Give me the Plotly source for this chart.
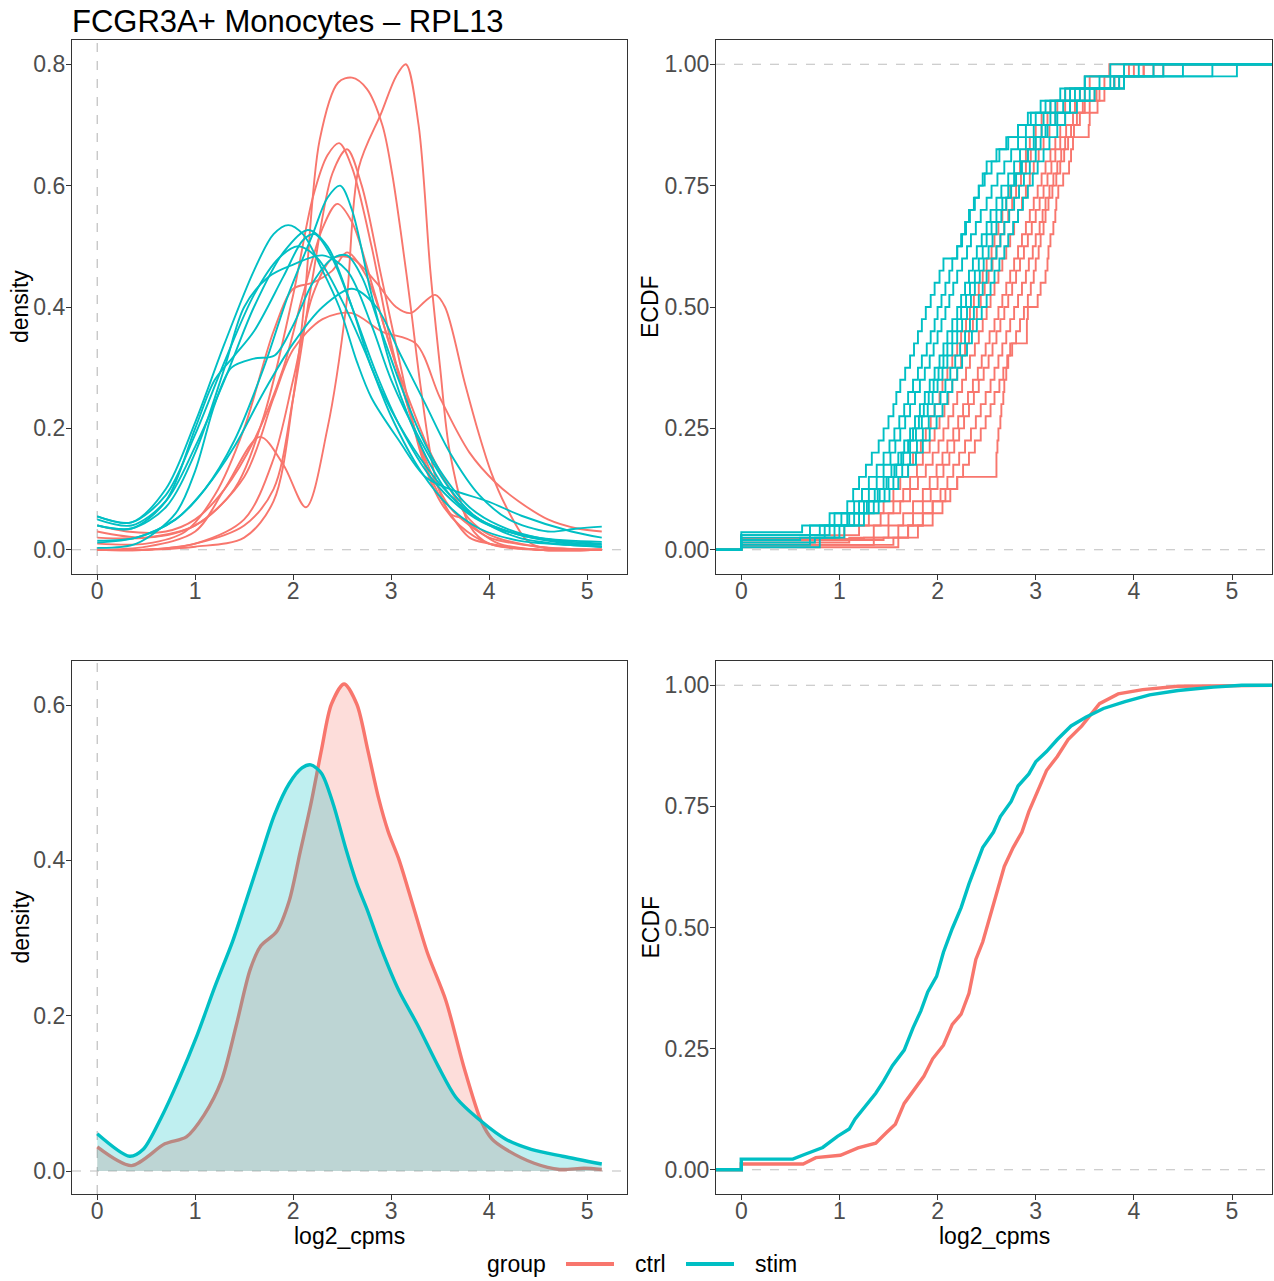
import plotly.graph_objects as go

RED = "#F8766D"
CYAN = "#00BFC4"
RED_FILL = "rgba(248,118,109,0.25)"
CYAN_FILL = "rgba(0,191,196,0.25)"

TITLE = "FCGR3A+ Monocytes – RPL13"
GROUPS = ["ctrl", "stim"]

# ---------------- per-sample densities (top-left) ----------------
ctrl1_x = [0, 0.5, 1.0, 1.3, 1.66, 1.9, 2.13, 2.35, 2.54, 2.67, 2.9, 3.05, 3.15, 3.28, 3.4, 3.5, 3.6, 3.8, 4.0, 4.5, 5.15]
ctrl1_y = [0.0, 0.005, 0.03, 0.10, 0.186, 0.14, 0.07, 0.20, 0.40, 0.63, 0.72, 0.78, 0.80, 0.70, 0.46, 0.30, 0.16, 0.04, 0.01, 0.0, 0.0]
ctrl2_x = [0, 0.5, 1.0, 1.4, 1.7, 2.0, 2.2, 2.35, 2.47, 2.6, 2.8, 3.0, 3.2, 3.4, 3.6, 3.8, 4.0, 4.5, 5.15]
ctrl2_y = [0.02, 0.02, 0.04, 0.10, 0.22, 0.42, 0.58, 0.65, 0.67, 0.63, 0.50, 0.34, 0.22, 0.13, 0.07, 0.04, 0.02, 0.005, 0.0]
ctrl3_x = [0, 0.5, 1.0, 1.5, 1.8, 2.0, 2.2, 2.4, 2.55, 2.7, 2.9, 3.1, 3.3, 3.5, 3.7, 4.0, 4.5, 5.15]
ctrl3_y = [0.0, 0.0, 0.01, 0.04, 0.10, 0.25, 0.45, 0.62, 0.66, 0.60, 0.45, 0.30, 0.16, 0.08, 0.04, 0.01, 0.0, 0.0]
ctrl4_x = [0, 0.3, 0.7, 1.0, 1.3, 1.6, 1.9, 2.1, 2.3, 2.45, 2.6, 2.8, 3.0, 3.2, 3.4, 3.6, 3.8, 4.0, 4.5, 5.15]
ctrl4_y = [0.04, 0.03, 0.03, 0.05, 0.10, 0.18, 0.30, 0.42, 0.53, 0.57, 0.54, 0.44, 0.33, 0.24, 0.16, 0.10, 0.05, 0.025, 0.005, 0.0]
ctrl5_x = [0, 0.5, 1.0, 1.5, 1.8, 2.0, 2.11, 2.27, 2.46, 2.6, 2.75, 2.91, 3.01, 3.11, 3.2, 3.3, 3.45, 3.6, 3.75, 3.9, 4.1, 4.5, 5.15]
ctrl5_y = [0.0, 0.0, 0.005, 0.02, 0.08, 0.25, 0.40, 0.675, 0.77, 0.778, 0.76, 0.70, 0.62, 0.51, 0.40, 0.27, 0.12, 0.06, 0.05, 0.03, 0.01, 0.0, 0.0]
ctrl6_x = [0, 0.5, 1.0, 1.5, 1.8, 2.0, 2.3, 2.6, 2.9, 3.25, 3.5, 3.8, 4.07, 4.3, 4.6, 4.9, 5.15]
ctrl6_y = [0.03, 0.02, 0.04, 0.12, 0.25, 0.33, 0.38, 0.39, 0.36, 0.34, 0.25, 0.16, 0.11, 0.08, 0.05, 0.035, 0.03]
ctrl7_x = [0, 0.5, 1.0, 1.5, 1.8, 2.0, 2.2, 2.4, 2.6, 2.85, 3.05, 3.2, 3.35, 3.45, 3.55, 3.75, 3.89, 4.02, 4.17, 4.37, 4.5, 5.15]
ctrl7_y = [0.0, 0.0, 0.01, 0.05, 0.15, 0.28, 0.42, 0.48, 0.48, 0.44, 0.40, 0.39, 0.41, 0.42, 0.40, 0.276, 0.194, 0.128, 0.072, 0.018, 0.005, 0.0]
ctrl8_x = [0, 0.5, 0.9, 1.2, 1.5, 1.8, 2.0, 2.2, 2.4, 2.55, 2.75, 3.0, 3.2, 3.4, 3.6, 3.8, 4.0, 4.5, 5.15]
ctrl8_y = [0.01, 0.01, 0.03, 0.09, 0.20, 0.36, 0.43, 0.44, 0.46, 0.49, 0.45, 0.33, 0.22, 0.12, 0.06, 0.02, 0.01, 0.0, 0.0]

stim1_x = [0, 0.35, 0.7, 1.0, 1.3, 1.6, 1.8, 1.95, 2.1, 2.3, 2.47, 2.65, 2.8, 3.08, 3.35, 3.6, 4.0, 4.33, 4.84, 5.15]
stim1_y = [0.055, 0.045, 0.10, 0.21, 0.34, 0.46, 0.52, 0.535, 0.52, 0.46, 0.40, 0.31, 0.25, 0.18, 0.12, 0.10, 0.079, 0.056, 0.03, 0.02]
stim2_x = [0, 0.35, 0.7, 1.0, 1.3, 1.6, 1.9, 2.15, 2.35, 2.6, 2.8, 3.0, 3.3, 3.6, 3.9, 4.3, 4.8, 5.15]
stim2_y = [0.05, 0.04, 0.08, 0.17, 0.28, 0.40, 0.49, 0.527, 0.50, 0.40, 0.30, 0.23, 0.15, 0.09, 0.05, 0.025, 0.01, 0.005]
stim3_x = [0, 0.35, 0.7, 1.0, 1.2, 1.4, 1.6, 1.9, 2.1, 2.22, 2.4, 2.6, 2.85, 3.1, 3.4, 3.7, 4.0, 4.5, 5.15]
stim3_y = [0.04, 0.035, 0.08, 0.20, 0.28, 0.32, 0.36, 0.45, 0.51, 0.52, 0.48, 0.40, 0.29, 0.20, 0.12, 0.07, 0.04, 0.02, 0.013]
stim4_x = [0, 0.4, 0.8, 1.1, 1.4, 1.7, 1.95, 2.2, 2.35, 2.48, 2.6, 2.8, 3.0, 3.2, 3.4, 3.6, 3.9, 4.3, 4.8, 5.15]
stim4_y = [0.015, 0.02, 0.05, 0.10, 0.18, 0.30, 0.42, 0.52, 0.58, 0.60, 0.56, 0.42, 0.30, 0.21, 0.14, 0.09, 0.05, 0.02, 0.008, 0.005]
stim5_x = [0, 0.4, 0.8, 1.0, 1.2, 1.37, 1.6, 1.81, 2.0, 2.2, 2.4, 2.55, 2.7, 2.9, 3.1, 3.3, 3.5, 3.8, 4.1, 4.5, 5.15]
stim5_y = [0.003, 0.01, 0.06, 0.13, 0.24, 0.30, 0.315, 0.32, 0.37, 0.44, 0.48, 0.485, 0.45, 0.36, 0.27, 0.19, 0.13, 0.07, 0.04, 0.02, 0.01]
stim6_x = [0, 0.4, 0.8, 1.1, 1.4, 1.7, 2.0, 2.3, 2.6, 2.85, 3.1, 3.35, 3.6, 3.9, 4.2, 4.6, 4.9, 5.15]
stim6_y = [0.012, 0.02, 0.05, 0.10, 0.17, 0.26, 0.34, 0.40, 0.43, 0.40, 0.32, 0.24, 0.16, 0.09, 0.05, 0.03, 0.035, 0.038]
stim7_x = [0, 0.35, 0.7, 1.0, 1.3, 1.6, 1.85, 2.05, 2.25, 2.5, 2.75, 3.0, 3.3, 3.6, 3.9, 4.3, 4.8, 5.15]
stim7_y = [0.055, 0.045, 0.09, 0.19, 0.31, 0.42, 0.48, 0.50, 0.48, 0.41, 0.32, 0.22, 0.13, 0.07, 0.035, 0.015, 0.008, 0.005]
stim8_x = [0, 0.35, 0.7, 1.0, 1.3, 1.5, 1.75, 2.0, 2.3, 2.55, 2.8, 3.0, 3.3, 3.6, 3.9, 4.3, 4.8, 5.15]
stim8_y = [0.04, 0.035, 0.07, 0.16, 0.30, 0.40, 0.45, 0.47, 0.485, 0.46, 0.37, 0.28, 0.18, 0.10, 0.05, 0.025, 0.012, 0.008]

# ---------------- per-sample ECDFs (top-right) ----------------
# x value at which each sample's ECDF first reaches each level (levels 0.025 .. 1.000)
ECDF_LEVELS = [0.025, 0.050, 0.075, 0.100, 0.125, 0.150, 0.175, 0.200, 0.225, 0.250,
               0.275, 0.300, 0.325, 0.350, 0.375, 0.400, 0.425, 0.450, 0.475, 0.500,
               0.525, 0.550, 0.575, 0.600, 0.625, 0.650, 0.675, 0.700, 0.725, 0.750,
               0.775, 0.800, 0.825, 0.850, 0.875, 0.900, 0.925, 0.950, 0.975, 1.000]
ctrl_zero_frac = [0.020, 0.030, 0.015, 0.022, 0.010, 0.020, 0.005, 0.010]
ctrl_ecdf1 = [0.85, 1.05, 1.30, 1.45, 1.55, 1.62, 1.70, 1.75, 1.83, 1.88, 1.93, 1.97, 2.02, 2.05, 2.10, 2.15, 2.20, 2.24, 2.29, 2.33,
              2.37, 2.42, 2.46, 2.50, 2.55, 2.58, 2.62, 2.66, 2.70, 2.74, 2.80, 2.84, 2.90, 2.94, 3.00, 3.06, 3.15, 3.30, 3.50, 3.75]
ctrl_ecdf2 = [0.95, 1.20, 1.42, 1.55, 1.65, 1.72, 1.79, 1.85, 1.92, 1.97, 2.02, 2.07, 2.11, 2.15, 2.20, 2.24, 2.28, 2.32, 2.36, 2.40,
              2.44, 2.48, 2.52, 2.56, 2.60, 2.64, 2.68, 2.72, 2.76, 2.80, 2.85, 2.90, 2.95, 3.00, 3.06, 3.12, 3.22, 3.35, 3.55, 3.90]
ctrl_ecdf3 = [1.10, 1.35, 1.50, 1.62, 1.72, 1.80, 1.88, 1.95, 2.01, 2.06, 2.11, 2.16, 2.20, 2.25, 2.29, 2.33, 2.38, 2.42, 2.46, 2.50,
              2.54, 2.58, 2.62, 2.66, 2.70, 2.74, 2.78, 2.82, 2.86, 2.90, 2.94, 2.98, 3.03, 3.08, 3.14, 3.20, 3.30, 3.45, 3.70, 4.00]
ctrl_ecdf4 = [1.25, 1.50, 1.65, 1.75, 1.85, 1.92, 1.99, 2.05, 2.10, 2.16, 2.21, 2.26, 2.31, 2.36, 2.41, 2.45, 2.49, 2.53, 2.58, 2.62,
              2.66, 2.70, 2.74, 2.78, 2.82, 2.86, 2.90, 2.94, 2.98, 3.02, 3.06, 3.10, 3.15, 3.20, 3.25, 3.30, 3.40, 3.50, 3.80, 4.20]
ctrl_ecdf5 = [1.35, 1.60, 1.75, 1.85, 1.93, 2.00, 2.06, 2.12, 2.17, 2.22, 2.27, 2.32, 2.37, 2.42, 2.47, 2.52, 2.56, 2.60, 2.64, 2.68,
              2.72, 2.76, 2.80, 2.84, 2.88, 2.92, 2.96, 3.00, 3.04, 3.08, 3.12, 3.16, 3.20, 3.25, 3.31, 3.38, 3.48, 3.60, 3.80, 4.10]
ctrl_ecdf6 = [1.45, 1.70, 1.85, 1.95, 2.03, 2.10, 2.16, 2.22, 2.28, 2.34, 2.39, 2.44, 2.49, 2.54, 2.58, 2.62, 2.66, 2.70, 2.74, 2.78,
              2.82, 2.86, 2.90, 2.93, 2.97, 3.00, 3.04, 3.07, 3.10, 3.14, 3.18, 3.22, 3.26, 3.30, 3.36, 3.42, 3.50, 3.62, 3.90, 4.30]
ctrl_ecdf7 = [1.60, 1.80, 1.95, 2.05, 2.13, 2.20, 2.26, 2.32, 2.38, 2.44, 2.49, 2.54, 2.58, 2.63, 2.67, 2.71, 2.76, 2.80, 2.84, 2.88,
              2.92, 2.95, 2.98, 3.00, 3.03, 3.05, 3.08, 3.10, 3.13, 3.17, 3.21, 3.25, 3.29, 3.33, 3.39, 3.45, 3.55, 3.65, 3.80, 3.95]
ctrl_ecdf8 = [1.55, 1.70, 1.85, 1.95, 2.08, 2.20, 2.60, 2.60, 2.61, 2.62, 2.64, 2.65, 2.67, 2.68, 2.70, 2.72, 2.74, 2.91, 2.91, 2.92,
              3.02, 3.05, 3.10, 3.12, 3.13, 3.15, 3.18, 3.20, 3.21, 3.23, 3.28, 3.34, 3.36, 3.38, 3.54, 3.55, 3.63, 3.70, 3.85, 4.10]

stim_zero_frac = [0.036, 0.025, 0.030, 0.020, 0.010, 0.015, 0.030, 0.005]
stim_ecdf1 = [0.00, 0.62, 0.90, 1.08, 1.14, 1.20, 1.27, 1.33, 1.40, 1.45, 1.50, 1.55, 1.58, 1.62, 1.67, 1.72, 1.76, 1.80, 1.84, 1.88,
              1.93, 1.97, 2.02, 2.06, 2.20, 2.25, 2.29, 2.33, 2.38, 2.42, 2.46, 2.50, 2.60, 2.70, 2.82, 2.95, 3.10, 3.30, 3.50, 3.76]
stim_ecdf2 = [0.00, 0.70, 0.95, 1.15, 1.23, 1.30, 1.38, 1.45, 1.51, 1.56, 1.61, 1.66, 1.70, 1.75, 1.80, 1.84, 1.89, 1.93, 1.97, 2.00,
              2.04, 2.08, 2.12, 2.15, 2.20, 2.24, 2.28, 2.32, 2.37, 2.42, 2.48, 2.55, 2.63, 2.72, 2.82, 2.92, 3.05, 3.25, 3.50, 3.90]
stim_ecdf3 = [0.00, 0.80, 1.02, 1.20, 1.30, 1.38, 1.45, 1.52, 1.57, 1.62, 1.67, 1.72, 1.77, 1.82, 1.87, 1.92, 1.96, 2.00, 2.04, 2.08,
              2.12, 2.16, 2.20, 2.25, 2.30, 2.34, 2.39, 2.44, 2.50, 2.55, 2.61, 2.68, 2.75, 2.82, 2.90, 3.00, 3.15, 3.35, 3.65, 4.05]
stim_ecdf4 = [0.60, 0.85, 1.08, 1.25, 1.36, 1.45, 1.53, 1.60, 1.66, 1.72, 1.77, 1.82, 1.87, 1.92, 1.97, 2.02, 2.06, 2.10, 2.15, 2.20,
              2.24, 2.28, 2.32, 2.36, 2.40, 2.45, 2.50, 2.54, 2.60, 2.65, 2.72, 2.78, 2.84, 2.90, 2.98, 3.08, 3.20, 3.40, 3.76, 5.05]
stim_ecdf5 = [0.70, 0.95, 1.15, 1.30, 1.41, 1.50, 1.58, 1.65, 1.72, 1.78, 1.84, 1.90, 1.95, 2.00, 2.05, 2.10, 2.15, 2.20, 2.25, 2.30,
              2.34, 2.38, 2.43, 2.47, 2.52, 2.56, 2.60, 2.65, 2.70, 2.75, 2.80, 2.86, 2.92, 2.98, 3.06, 3.15, 3.28, 3.45, 3.80, 4.30]
stim_ecdf6 = [0.75, 1.00, 1.20, 1.35, 1.46, 1.55, 1.64, 1.72, 1.79, 1.85, 1.91, 1.97, 2.03, 2.08, 2.13, 2.18, 2.23, 2.28, 2.33, 2.37,
              2.42, 2.46, 2.50, 2.55, 2.60, 2.64, 2.68, 2.73, 2.78, 2.83, 2.88, 2.94, 3.00, 3.05, 3.12, 3.22, 3.35, 3.50, 3.90, 4.50]
stim_ecdf7 = [0.00, 0.90, 1.10, 1.28, 1.39, 1.48, 1.56, 1.63, 1.70, 1.75, 1.81, 1.86, 1.91, 1.96, 2.01, 2.06, 2.10, 2.15, 2.20, 2.24,
              2.29, 2.33, 2.38, 2.42, 2.46, 2.50, 2.55, 2.60, 2.66, 2.72, 2.78, 2.85, 2.92, 3.00, 3.10, 3.20, 3.35, 3.55, 3.90, 4.80]
stim_ecdf8 = [0.80, 1.05, 1.25, 1.40, 1.51, 1.60, 1.70, 1.78, 1.85, 1.92, 1.99, 2.05, 2.10, 2.15, 2.20, 2.25, 2.30, 2.35, 2.40, 2.45,
              2.50, 2.54, 2.58, 2.63, 2.68, 2.72, 2.77, 2.82, 2.87, 2.92, 2.97, 3.02, 3.08, 3.14, 3.22, 3.30, 3.42, 3.60, 3.85, 4.20]

# ---------------- pooled densities (bottom-left) ----------------
pool_ctrl_dens_x = [0, 0.35, 0.69, 0.91, 1.09, 1.27, 1.42, 1.56, 1.67, 1.83, 1.96, 2.07, 2.18, 2.29, 2.39, 2.52,
                    2.65, 2.76, 2.87, 2.97, 3.08, 3.23, 3.37, 3.56, 3.74, 3.92, 4.03, 4.17, 4.46, 4.72, 4.97, 5.15]
pool_ctrl_dens_y = [0.031, 0.007, 0.035, 0.044, 0.072, 0.117, 0.188, 0.259, 0.290, 0.308, 0.348, 0.410, 0.472, 0.543, 0.601, 0.627,
                    0.601, 0.543, 0.481, 0.437, 0.401, 0.339, 0.281, 0.219, 0.135, 0.064, 0.041, 0.028, 0.010, 0.002, 0.0035, 0.002]
pool_stim_dens_x = [0, 0.33, 0.47, 0.65, 0.83, 1.02, 1.20, 1.38, 1.52, 1.67, 1.81, 1.96, 2.09, 2.18, 2.29, 2.41,
                    2.54, 2.65, 2.76, 2.90, 3.08, 3.27, 3.48, 3.66, 3.92, 4.17, 4.43, 4.75, 5.15]
pool_stim_dens_y = [0.048, 0.019, 0.028, 0.068, 0.117, 0.175, 0.237, 0.295, 0.348, 0.406, 0.459, 0.499, 0.519, 0.523, 0.512, 0.472,
                    0.414, 0.370, 0.335, 0.286, 0.232, 0.188, 0.135, 0.095, 0.064, 0.041, 0.028, 0.019, 0.009]

# ---------------- pooled ECDFs (bottom-right) ----------------
pool_ctrl_ecdf_x = [-0.3, 0, 0, 0.63, 0.76, 1.01, 1.19, 1.37, 1.48, 1.57, 1.66, 1.77, 1.86, 1.95, 2.06, 2.15, 2.24, 2.32, 2.39,
                    2.46, 2.53, 2.61, 2.68, 2.77, 2.86, 2.93, 3.02, 3.11, 3.22, 3.33, 3.47, 3.65, 3.84, 4.09, 4.45, 5.10, 5.6]
pool_ctrl_ecdf_y = [0, 0, 0.012, 0.012, 0.025, 0.030, 0.045, 0.055, 0.077, 0.094, 0.137, 0.169, 0.193, 0.229, 0.257, 0.300, 0.321, 0.364, 0.434,
                    0.470, 0.519, 0.576, 0.626, 0.665, 0.697, 0.739, 0.782, 0.824, 0.853, 0.888, 0.916, 0.962, 0.982, 0.991, 0.998, 1.0, 1.0]
pool_stim_ecdf_x = [-0.3, 0, 0, 0.525, 0.65, 0.83, 0.98, 1.10, 1.16, 1.27, 1.37, 1.45, 1.54, 1.66, 1.75, 1.83, 1.90, 1.99, 2.06,
                    2.15, 2.24, 2.32, 2.39, 2.46, 2.57, 2.64, 2.75, 2.82, 2.93, 3.00, 3.11, 3.22, 3.36, 3.51, 3.69, 3.91, 4.16,
                    4.45, 4.81, 5.10, 5.6]
pool_stim_ecdf_y = [0, 0, 0.022, 0.022, 0.032, 0.046, 0.069, 0.084, 0.105, 0.133, 0.158, 0.183, 0.215, 0.247, 0.293, 0.328, 0.367, 0.399, 0.449,
                    0.498, 0.541, 0.590, 0.626, 0.665, 0.697, 0.729, 0.760, 0.792, 0.817, 0.842, 0.863, 0.888, 0.916, 0.934, 0.952, 0.966, 0.980,
                    0.989, 0.996, 1.0, 1.0]

X_TICKS = [0, 1, 2, 3, 4, 5]

W, H = 1274, 1281


def px(x):
    return x / W


def py(y):
    return 1 - y / H


ctrl_dens = [(ctrl1_x, ctrl1_y), (ctrl2_x, ctrl2_y), (ctrl3_x, ctrl3_y), (ctrl4_x, ctrl4_y),
             (ctrl5_x, ctrl5_y), (ctrl6_x, ctrl6_y), (ctrl7_x, ctrl7_y), (ctrl8_x, ctrl8_y)]
stim_dens = [(stim1_x, stim1_y), (stim2_x, stim2_y), (stim3_x, stim3_y), (stim4_x, stim4_y),
             (stim5_x, stim5_y), (stim6_x, stim6_y), (stim7_x, stim7_y), (stim8_x, stim8_y)]
ctrl_ecdf = [ctrl_ecdf1, ctrl_ecdf2, ctrl_ecdf3, ctrl_ecdf4, ctrl_ecdf5, ctrl_ecdf6, ctrl_ecdf7, ctrl_ecdf8]
stim_ecdf = [stim_ecdf1, stim_ecdf2, stim_ecdf3, stim_ecdf4, stim_ecdf5, stim_ecdf6, stim_ecdf7, stim_ecdf8]

fig = go.Figure()

# top-left: sample densities
for (xs, ys) in ctrl_dens:
    fig.add_trace(go.Scatter(x=xs, y=ys, mode="lines", line=dict(color=RED, width=1.9, shape="spline", smoothing=0.9),
                             xaxis="x", yaxis="y", showlegend=False, hoverinfo="skip"))
for (xs, ys) in stim_dens:
    fig.add_trace(go.Scatter(x=xs, y=ys, mode="lines", line=dict(color=CYAN, width=1.9, shape="spline", smoothing=0.9),
                             xaxis="x", yaxis="y", showlegend=False, hoverinfo="skip"))


def ecdf_trace(zf, qs, color):
    xs = [-0.3, 0]
    ys = [0, zf]
    for lev, q in zip(ECDF_LEVELS, qs):
        if lev > zf:
            xs.append(q)
            ys.append(lev)
    xs.append(5.6)
    ys.append(1.0)
    return go.Scatter(x=xs, y=ys, mode="lines", line=dict(color=color, width=1.9, shape="hv"),
                      xaxis="x2", yaxis="y2", showlegend=False, hoverinfo="skip")


# top-right: sample ECDFs
for zf, qs in zip(ctrl_zero_frac, ctrl_ecdf):
    fig.add_trace(ecdf_trace(zf, qs, RED))
for zf, qs in zip(stim_zero_frac, stim_ecdf):
    fig.add_trace(ecdf_trace(zf, qs, CYAN))

# bottom-left: pooled densities
fig.add_trace(go.Scatter(x=pool_ctrl_dens_x, y=pool_ctrl_dens_y, mode="lines", fill="tozeroy", fillcolor=RED_FILL,
                         line=dict(color=RED, width=3.4, shape="spline", smoothing=0.8),
                         xaxis="x3", yaxis="y3", showlegend=False, hoverinfo="skip"))
fig.add_trace(go.Scatter(x=pool_stim_dens_x, y=pool_stim_dens_y, mode="lines", fill="tozeroy", fillcolor=CYAN_FILL,
                         line=dict(color=CYAN, width=3.4, shape="spline", smoothing=0.8),
                         xaxis="x3", yaxis="y3", showlegend=False, hoverinfo="skip"))

# bottom-right: pooled ECDFs
fig.add_trace(go.Scatter(x=pool_ctrl_ecdf_x, y=pool_ctrl_ecdf_y, mode="lines", line=dict(color=RED, width=3.4),
                         xaxis="x4", yaxis="y4", showlegend=False, hoverinfo="skip"))
fig.add_trace(go.Scatter(x=pool_stim_ecdf_x, y=pool_stim_ecdf_y, mode="lines", line=dict(color=CYAN, width=3.4),
                         xaxis="x4", yaxis="y4", showlegend=False, hoverinfo="skip"))

# panel geometry (pixels)
L1, R1 = 72, 627
L2, R2 = 716, 1272
T1, B1 = 40, 574
T2, B2 = 661, 1194
XR = [-0.2575, 5.4075]

AF = "Liberation Sans, Arial, sans-serif"
TICKFONT = dict(family=AF, size=23, color="#4D4D4D")
common_axis = dict(showgrid=False, zeroline=False, showline=True, linecolor="#333333", linewidth=1.2,
                   mirror=True, ticks="outside", ticklen=5, tickwidth=1.2, tickcolor="#333333",
                   tickfont=TICKFONT, fixedrange=True)
xcommon = dict(common_axis, ticklabelstandoff=-9)
ycommon = dict(common_axis, ticklabelstandoff=-4)

fig.update_layout(
    width=W, height=H, margin=dict(l=0, r=0, t=0, b=0),
    paper_bgcolor="white", plot_bgcolor="white", showlegend=False,
    font=dict(family=AF),
    xaxis=dict(domain=[px(L1), px(R1)], range=XR, anchor="y", tickvals=X_TICKS, **xcommon),
    yaxis=dict(domain=[py(B1), py(T1)], range=[-0.04, 0.84], anchor="x", tickvals=[0, 0.2, 0.4, 0.6, 0.8],
               ticktext=["0.0", "0.2", "0.4", "0.6", "0.8"], **ycommon),
    xaxis2=dict(domain=[px(L2), px(R2)], range=XR, anchor="y2", tickvals=X_TICKS, **xcommon),
    yaxis2=dict(domain=[py(B1), py(T1)], range=[-0.05, 1.05], anchor="x2", tickvals=[0, 0.25, 0.5, 0.75, 1.0],
                ticktext=["0.00", "0.25", "0.50", "0.75", "1.00"], **ycommon),
    xaxis3=dict(domain=[px(L1), px(R1)], range=XR, anchor="y3", tickvals=X_TICKS, **xcommon),
    yaxis3=dict(domain=[py(B2), py(T2)], range=[-0.0296, 0.6567], anchor="x3", tickvals=[0, 0.2, 0.4, 0.6],
                ticktext=["0.0", "0.2", "0.4", "0.6"], **ycommon),
    xaxis4=dict(domain=[px(L2), px(R2)], range=XR, anchor="y4", tickvals=X_TICKS, **xcommon),
    yaxis4=dict(domain=[py(B2), py(T2)], range=[-0.05, 1.05], anchor="x4", tickvals=[0, 0.25, 0.5, 0.75, 1.0],
                ticktext=["0.00", "0.25", "0.50", "0.75", "1.00"], **ycommon),
)

# dashed reference lines
DASH = dict(color="#BEBEBE", width=1.2, dash="dash")
shapes = []
for xa, ya in [("x", "y"), ("x3", "y3")]:
    shapes.append(dict(type="line", xref=xa, yref=ya + " domain", x0=0, x1=0, y0=0, y1=1, line=DASH, layer="below"))
    shapes.append(dict(type="line", xref=xa + " domain", yref=ya, x0=0, x1=1, y0=0, y1=0, line=DASH, layer="below"))
for xa, ya in [("x2", "y2"), ("x4", "y4")]:
    for yv in [0, 1]:
        shapes.append(dict(type="line", xref=xa + " domain", yref=ya, x0=0, x1=1, y0=yv, y1=yv, line=DASH, layer="below"))

# legend keys
LEG_Y = 1264
shapes.append(dict(type="line", xref="paper", yref="paper", x0=px(566), x1=px(614), y0=py(LEG_Y), y1=py(LEG_Y),
                   line=dict(color=RED, width=4)))
shapes.append(dict(type="line", xref="paper", yref="paper", x0=px(686), x1=px(734), y0=py(LEG_Y), y1=py(LEG_Y),
                   line=dict(color=CYAN, width=4)))
fig.update_layout(shapes=shapes)

ann = []
ann.append(dict(text=TITLE, x=px(70), y=py(21), xref="paper", yref="paper", xanchor="left", yanchor="middle",
                showarrow=False, font=dict(family=AF, size=31, color="black")))
for xc, txt in [(20, "density"), (650, "ECDF")]:
    for yc in [(T1 + B1) / 2, (T2 + B2) / 2]:
        ann.append(dict(text=txt, x=px(xc), y=py(yc), xref="paper", yref="paper", xanchor="center", yanchor="middle",
                        textangle=-90, showarrow=False, font=dict(family=AF, size=23, color="black")))
for xc in [(L1 + R1) / 2, (L2 + R2) / 2]:
    ann.append(dict(text="log2_cpms", x=px(xc), y=py(1236), xref="paper", yref="paper", xanchor="center",
                    yanchor="middle", showarrow=False, borderpad=0, font=dict(family=AF, size=23, color="black")))
ann.append(dict(text="group", x=px(485), y=py(LEG_Y), xref="paper", yref="paper", xanchor="left", yanchor="middle",
                showarrow=False, font=dict(family=AF, size=23, color="black")))
ann.append(dict(text=GROUPS[0], x=px(633), y=py(LEG_Y), xref="paper", yref="paper", xanchor="left", yanchor="middle",
                showarrow=False, font=dict(family=AF, size=23, color="black")))
ann.append(dict(text=GROUPS[1], x=px(753), y=py(LEG_Y), xref="paper", yref="paper", xanchor="left", yanchor="middle",
                showarrow=False, font=dict(family=AF, size=23, color="black")))
fig.update_layout(annotations=ann)

fig.write_html("out.html")
